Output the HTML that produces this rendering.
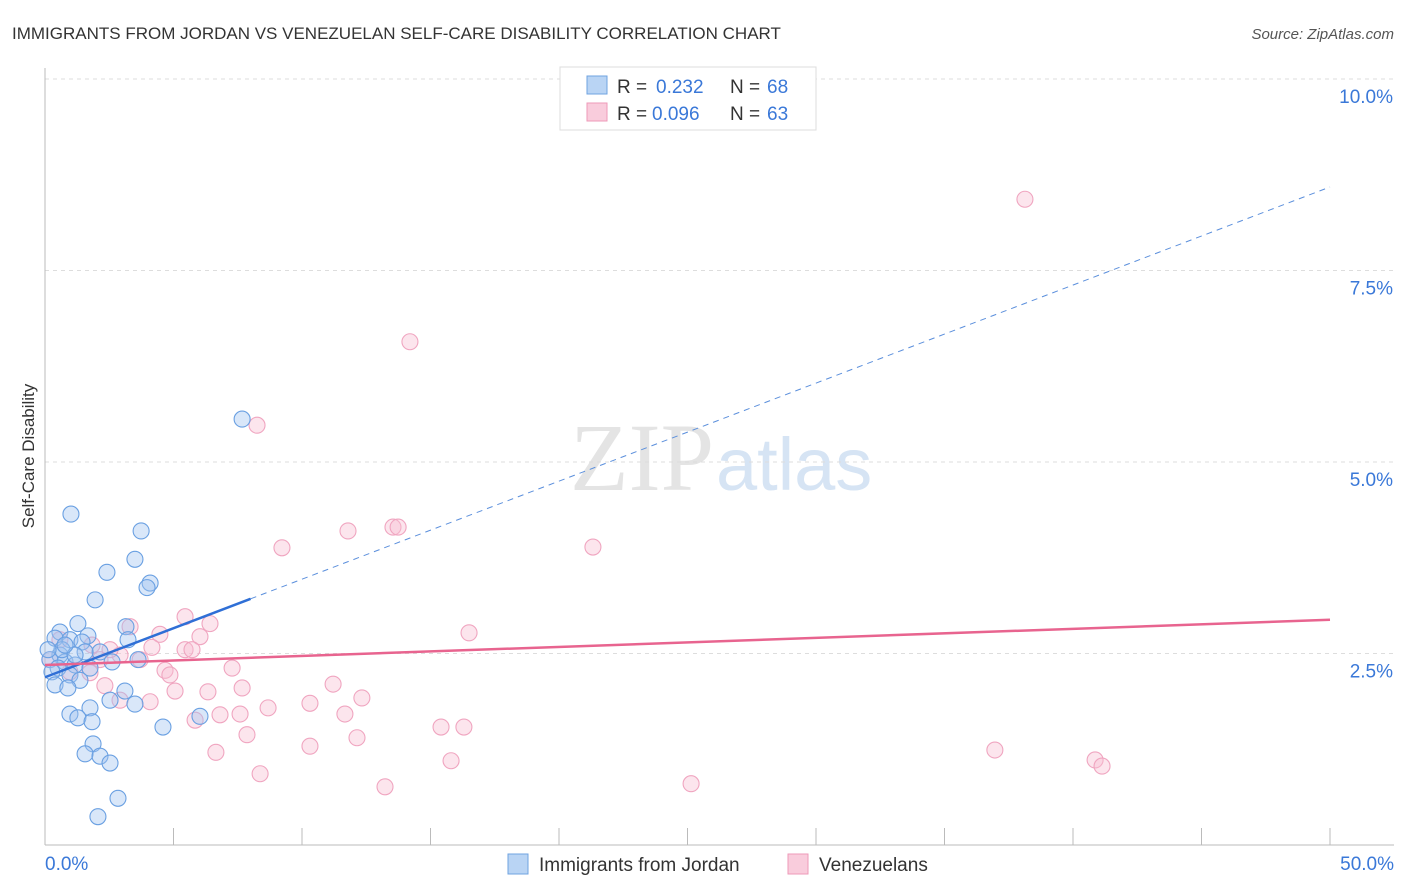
<!DOCTYPE html>
<html><head><meta charset="utf-8"><style>
body{margin:0;background:#fff;font-family:"Liberation Sans",sans-serif}
svg{display:block}
</style></head><body>
<svg id="c" width="1406" height="892">
<text x="12" y="39" font-size="17" fill="#333">IMMIGRANTS FROM JORDAN VS VENEZUELAN SELF-CARE DISABILITY CORRELATION CHART</text>
<text x="1394" y="39" font-size="15" fill="#555" font-style="italic" text-anchor="end">Source: ZipAtlas.com</text>
<text x="714" y="490" font-size="96" fill="#e4e4e4" text-anchor="end" font-family="Liberation Serif,serif">ZIP</text>
<text x="716" y="490" font-size="74" fill="#d6e4f4">atlas</text>
<g id="grid"></g><g id="axes"></g><g id="pts"></g><g id="lines"></g>
<text transform="translate(34,456) rotate(-90)" font-size="17" fill="#333" text-anchor="middle">Self-Care Disability</text>
<g>
<rect x="560" y="67" width="256" height="63" fill="#fff" stroke="#ddd"/>
<rect x="587" y="76" width="20" height="18" fill="#b9d4f4" stroke="#6fa3e0"/>
<rect x="587" y="103" width="20" height="18" fill="#f9ccdc" stroke="#ee9ab8"/>
<text x="617" y="93" font-size="19" fill="#333">R =</text>
<text x="656" y="93" font-size="19" fill="#3a78d8">0.232</text>
<text x="730" y="93" font-size="19" fill="#333">N =</text>
<text x="767" y="93" font-size="19" fill="#3a78d8">68</text>
<text x="617" y="120" font-size="19" fill="#333">R =</text>
<text x="652" y="120" font-size="19" fill="#3a78d8">0.096</text>
<text x="730" y="120" font-size="19" fill="#333">N =</text>
<text x="767" y="120" font-size="19" fill="#3a78d8">63</text>
</g>
<g>
<rect x="508" y="854" width="20" height="20" fill="#b9d4f4" stroke="#6fa3e0"/>
<text x="539" y="871" font-size="19" fill="#333">Immigrants from Jordan</text>
<rect x="788" y="854" width="20" height="20" fill="#f9ccdc" stroke="#ee9ab8"/>
<text x="819" y="871" font-size="19" fill="#333">Venezuelans</text>
</g>
</svg>
<script>
const yTicks=[2.5,5.0,7.5,10.0];
const xTickVals=[0,5,10,15,20,25,30,35,40,45,50];
const blueX=[1.01,3.74,3.50,2.41,4.09,3.97,1.95,3.15,1.28,1.67,0.58,0.39,0.97,1.44,2.14,1.56,0.58,0.19,0.78,1.17,0.51,1.75,0.27,0.97,1.36,0.39,0.89,3.11,2.53,3.50,1.75,0.97,1.28,1.83,4.59,6.03,1.87,1.56,2.14,2.53,2.84,2.06,7.67,3.23,3.62,2.61,0.66,0.12,1.17,0.78];
const blueY=[4.32,4.10,3.73,3.56,3.42,3.36,3.20,2.85,2.89,2.73,2.78,2.70,2.68,2.65,2.52,2.52,2.48,2.42,2.39,2.35,2.31,2.31,2.26,2.22,2.15,2.09,2.05,2.01,1.89,1.84,1.79,1.71,1.66,1.61,1.54,1.68,1.32,1.19,1.16,1.07,0.61,0.37,5.56,2.68,2.42,2.39,2.55,2.55,2.48,2.61];
const pinkX=[38.13,14.20,8.25,9.22,11.79,13.54,13.74,21.32,16.50,5.45,6.42,6.03,4.47,3.31,4.16,5.45,5.72,2.92,3.70,4.67,7.28,4.86,2.33,5.06,6.34,7.67,11.21,12.33,4.09,8.68,10.31,11.67,5.84,6.81,7.59,7.86,12.14,10.31,6.65,15.41,16.30,15.80,8.37,13.23,25.14,36.96,40.86,41.13,1.83,0.58,0.19,0.97,1.75,2.14,2.53,2.92];
const pinkY=[8.43,6.57,5.48,3.88,4.10,4.15,4.15,3.89,2.77,2.98,2.89,2.72,2.75,2.85,2.58,2.55,2.55,2.48,2.42,2.28,2.31,2.22,2.08,2.01,2.00,2.05,2.10,1.92,1.87,1.79,1.85,1.71,1.63,1.70,1.71,1.44,1.40,1.29,1.21,1.54,1.54,1.10,0.93,0.76,0.80,1.24,1.11,1.03,2.61,2.68,2.42,2.26,2.25,2.42,2.55,1.89];
const blueTrend=[2.19,8.59];
const pinkTrend=[2.35,2.94];
const blueSolidEnd=8.0;
const NS='http://www.w3.org/2000/svg';
const X=v=>45+v*25.7, Y=v=>845-v*76.6;
function mk(tag,attrs,parent){const e=document.createElementNS(NS,tag);for(const k in attrs)e.setAttribute(k,attrs[k]);document.getElementById(parent).appendChild(e);return e;}
yTicks.forEach(t=>{
 const l=mk('line',{x1:45,x2:1394,y1:Y(t),y2:Y(t),stroke:'#ddd','stroke-dasharray':'4,4'},'grid');
 
 
 const tx=mk('text',{x:1393,y:Y(t)+24,'font-size':19,fill:'#3a78d8','text-anchor':'end'},'grid');
 tx.textContent=t.toFixed(1)+'%';
 
 
});
mk('line',{x1:45,x2:45,y1:68,y2:845,stroke:'#bbb'},'axes');
mk('line',{x1:45,x2:1394,y1:845,y2:845,stroke:'#bbb'},'axes');
xTickVals.forEach(t=>{
 const l=mk('line',{x1:X(t),x2:X(t),y1:828,y2:845,stroke:'#bbb'},'axes');
 
 
});
[[0,'0.0%','start',45],[50,'50.0%','end',1394]].forEach(a=>{
 const tx=mk('text',{x:a[3],y:870,'font-size':19,fill:'#3a78d8','text-anchor':a[2]},'axes');
 tx.textContent=a[1];
 
 
});
pinkX.forEach((v,i)=>{
 const c=mk('circle',{cx:X(v),cy:Y(pinkY[i]),r:8,fill:'rgba(248,190,210,0.4)',stroke:'#f0a5c0','stroke-width':1.1},'pts');
 
 
});
blueX.forEach((v,i)=>{
 const c=mk('circle',{cx:X(v),cy:Y(blueY[i]),r:8,fill:'rgba(160,195,240,0.4)',stroke:'#6aa0e2','stroke-width':1.1},'pts');
 
 
});
const bAt=x=>blueTrend[0]+(blueTrend[1]-blueTrend[0])*x/50;
let l1=mk('line',{x1:X(0),y1:Y(blueTrend[0]),x2:X(blueSolidEnd),y2:Y(bAt(blueSolidEnd)),stroke:'#2f6fd6','stroke-width':2.5},'lines');


let l2=mk('line',{x1:X(blueSolidEnd),y1:Y(bAt(blueSolidEnd)),x2:X(50),y2:Y(blueTrend[1]),stroke:'#5b8fdc','stroke-width':1,'stroke-dasharray':'6,5'},'lines');


let l3=mk('line',{x1:X(0),y1:Y(pinkTrend[0]),x2:X(50),y2:Y(pinkTrend[1]),stroke:'#e8648f','stroke-width':2.5},'lines');


</script>
</body></html>
